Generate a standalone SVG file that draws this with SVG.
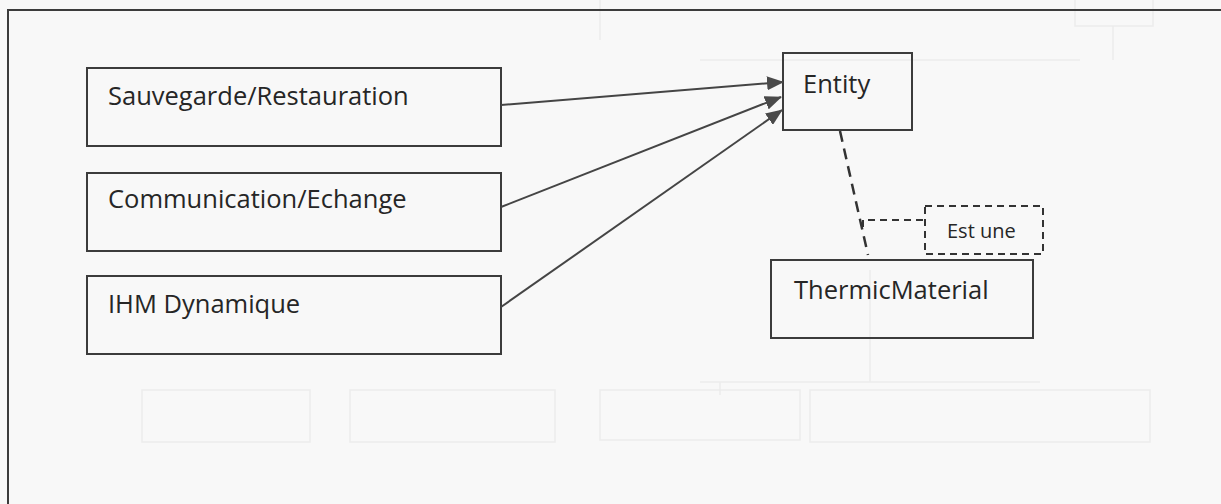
<svg xmlns="http://www.w3.org/2000/svg" width="1221" height="504" viewBox="0 0 1221 504">
  <style>
    .box { fill: none; stroke: #3c3c3c; stroke-width: 2; }
    .label { font-family: "Open Sans", "Liberation Sans", sans-serif; font-size: 25.5px; fill: #262626; }
    .small { font-family: "Open Sans", "Liberation Sans", sans-serif; font-size: 20px; fill: #262626; }
    .link { fill: none; stroke: #454545; stroke-width: 2; marker-end: url(#head); }
    .dash { fill: none; stroke: #333; stroke-width: 2.5; stroke-dasharray: 11 7; }
    .note { fill: none; stroke: #333; stroke-width: 2; stroke-dasharray: 7 5; }
    .faint { fill: none; stroke: #ececec; stroke-width: 1.5; }
  </style>
  <defs>
    <marker id="head" viewBox="0 0 17 14" refX="16" refY="7" markerWidth="17" markerHeight="14" markerUnits="userSpaceOnUse" orient="auto">
      <path d="M0,0 L17,7 L0,14 z" fill="#4a4a4a"/>
    </marker>
  </defs>

  <!-- paper -->
  <rect x="0" y="0" width="1221" height="504" fill="#f8f8f8"/>

  <!-- faint lines from the reverse side of the sheet -->
  <g id="backdrop" class="faint">
    <rect x="1075" y="-4" width="78" height="30"/>
    <path d="M1113 26 V60 M600 40 V0 M700 60 H1080 M870 270 V382 M700 382 H1040 M720 382 V395"/>
    <rect x="142" y="390" width="168" height="52"/>
    <rect x="350" y="390" width="205" height="52"/>
    <rect x="600" y="390" width="200" height="50"/>
    <rect x="810" y="390" width="340" height="52"/>
  </g>

  <!-- outer frame -->
  <rect x="8" y="10" width="1220" height="500" class="box"/>

  <g id="sauvegarde">
    <rect x="87" y="68" width="414" height="78" class="box"/>
    <text x="108" y="105" class="label">Sauvegarde/Restauration</text>
  </g>
  <g id="communication">
    <rect x="87" y="173" width="414" height="78" class="box"/>
    <text x="108" y="208" class="label">Communication/Echange</text>
  </g>
  <g id="ihm">
    <rect x="87" y="276" width="414" height="78" class="box"/>
    <text x="108" y="313" class="label">IHM Dynamique</text>
  </g>
  <g id="entity">
    <rect x="783" y="53" width="129" height="77" class="box"/>
    <text x="803" y="93" class="label">Entity</text>
  </g>
  <g id="thermic-material">
    <rect x="771" y="260" width="262" height="78" class="box"/>
    <text x="794" y="299" class="label">ThermicMaterial</text>
  </g>
  <g id="est-une">
    <rect x="925" y="206" width="118" height="48" class="note"/>
    <text x="947" y="238" class="small">Est une</text>
  </g>

  <g id="connectors">
    <path d="M501 105 L783 82" class="link"/>
    <path d="M501 207 L781 97" class="link"/>
    <path d="M501 307 L782 110" class="link"/>
    <path d="M840 131 L868 255" class="dash"/>
    <path d="M923 220 H863 V229" class="note"/>
  </g>
</svg>
